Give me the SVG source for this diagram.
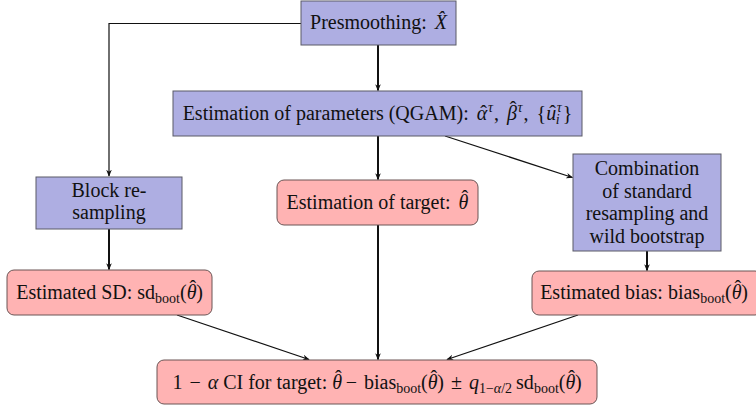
<svg xmlns="http://www.w3.org/2000/svg" width="756" height="407" viewBox="0 0 756 407">
  <style>
    .blue { fill: #aeaee2; stroke: #5a5a66; stroke-width: 1; }
    .red { fill: #ffb3b3; stroke: #6a5555; stroke-width: 1; }
    text { font-family: "Liberation Serif", "DejaVu Serif", serif; font-size: 20px; fill: #111; text-anchor: middle; }
    .it { font-style: italic; }
    .sub { font-size: 14px; }
    .edge { fill: none; stroke: #111; stroke-width: 1.2; marker-end: url(#arr); }
    .thick { stroke-width: 2; }
  </style>
  <defs>
    <marker id="arr" viewBox="0 0 10 10" refX="9" refY="5" markerWidth="7" markerHeight="7" markerUnits="userSpaceOnUse" orient="auto">
      <path d="M0,1 L10,5 L0,9 L3,5 Z" fill="#111"/>
    </marker>
  </defs>

  <!-- connectors -->
  <g id="connectors">
    <path class="edge" d="M301,23.5 H109 V176"/>
    <path class="edge thick" d="M378,45 V90.5"/>
    <path class="edge thick" d="M378,136 V179.5"/>
    <path class="edge" d="M445,136 L572.5,177.5"/>
    <path class="edge thick" d="M109,229 V269.5"/>
    <path class="edge thick" d="M647,251 V270.5"/>
    <path class="edge thick" d="M378,225 V359.5"/>
    <path class="edge" d="M177,315 L309,359.5"/>
    <path class="edge" d="M578,315 L447,359.5"/>
  </g>

  <g id="presmoothing">
    <rect class="blue" x="301" y="1" width="155" height="44"/>
    <text x="378.5" y="29">Presmoothing: <tspan class="it" dx="3">X̂</tspan></text>
  </g>

  <g id="parameters">
    <rect class="blue" x="173" y="91" width="409" height="45"/>
    <text x="377.5" y="120">Estimation of parameters (QGAM): <tspan class="it" dx="3">α</tspan><tspan dx="-7">ˆ</tspan><tspan class="sub it" dx="1" dy="-8">τ</tspan><tspan dx="1" dy="8">, </tspan><tspan class="it" dx="3">β</tspan><tspan dx="-7" dy="-4">ˆ</tspan><tspan class="sub it" dx="1" dy="-4">τ</tspan><tspan dx="1" dy="8">, </tspan><tspan dx="3">{</tspan><tspan class="it">u</tspan><tspan dx="-7">ˆ</tspan><tspan class="sub it" dx="1" dy="-8">τ</tspan><tspan class="sub it" dx="-6" dy="12">i</tspan><tspan dx="3" dy="-4">}</tspan></text>
  </g>

  <g id="block-resampling">
    <rect class="blue" x="36" y="177" width="146" height="52"/>
    <text x="109" y="197">Block re-</text>
    <text x="109" y="219">sampling</text>
  </g>

  <g id="target">
    <rect class="red" x="277" y="180" width="201" height="45" rx="7"/>
    <text x="377.5" y="209">Estimation of target: <tspan class="it" dx="3">θ</tspan><tspan dx="-7" dy="-4">ˆ</tspan></text>
  </g>

  <g id="combination">
    <rect class="blue" x="573" y="154" width="148" height="97"/>
    <text x="647" y="175">Combination</text>
    <text x="647" y="198">of standard</text>
    <text x="647" y="220">resampling and</text>
    <text x="647" y="243">wild bootstrap</text>
  </g>

  <g id="estimated-sd">
    <rect class="red" x="7" y="270" width="205" height="45" rx="7"/>
    <text x="109.5" y="299">Estimated SD: sd<tspan class="sub" dy="4">boot</tspan><tspan dy="-4">(</tspan><tspan class="it">θ</tspan><tspan dx="-7" dy="-4">ˆ</tspan><tspan dy="4">)</tspan></text>
  </g>

  <g id="estimated-bias">
    <rect class="red" x="532" y="271" width="230" height="44" rx="7"/>
    <text x="644" y="299">Estimated bias: bias<tspan class="sub" dy="4">boot</tspan><tspan dy="-4">(</tspan><tspan class="it">θ</tspan><tspan dx="-7" dy="-4">ˆ</tspan><tspan dy="4">)</tspan></text>
  </g>

  <g id="confidence-interval">
    <rect class="red" x="157" y="360" width="440" height="44" rx="7"/>
    <text x="377" y="389">1 <tspan dx="2">−</tspan> <tspan class="it" dx="2">α</tspan> CI for target: <tspan class="it">θ</tspan><tspan dx="-7" dy="-4">ˆ</tspan><tspan dx="4" dy="4">−</tspan> <tspan dx="2">bias</tspan><tspan class="sub" dy="4">boot</tspan><tspan dy="-4">(</tspan><tspan class="it">θ</tspan><tspan dx="-7" dy="-4">ˆ</tspan><tspan dy="4">) </tspan><tspan dx="2">±</tspan> <tspan class="it" dx="2">q</tspan><tspan class="sub" dy="4">1−<tspan class="it">α</tspan>/2</tspan><tspan dx="4" dy="-4">sd</tspan><tspan class="sub" dy="4">boot</tspan><tspan dy="-4">(</tspan><tspan class="it">θ</tspan><tspan dx="-7" dy="-4">ˆ</tspan><tspan dy="4">)</tspan></text>
  </g>
</svg>
